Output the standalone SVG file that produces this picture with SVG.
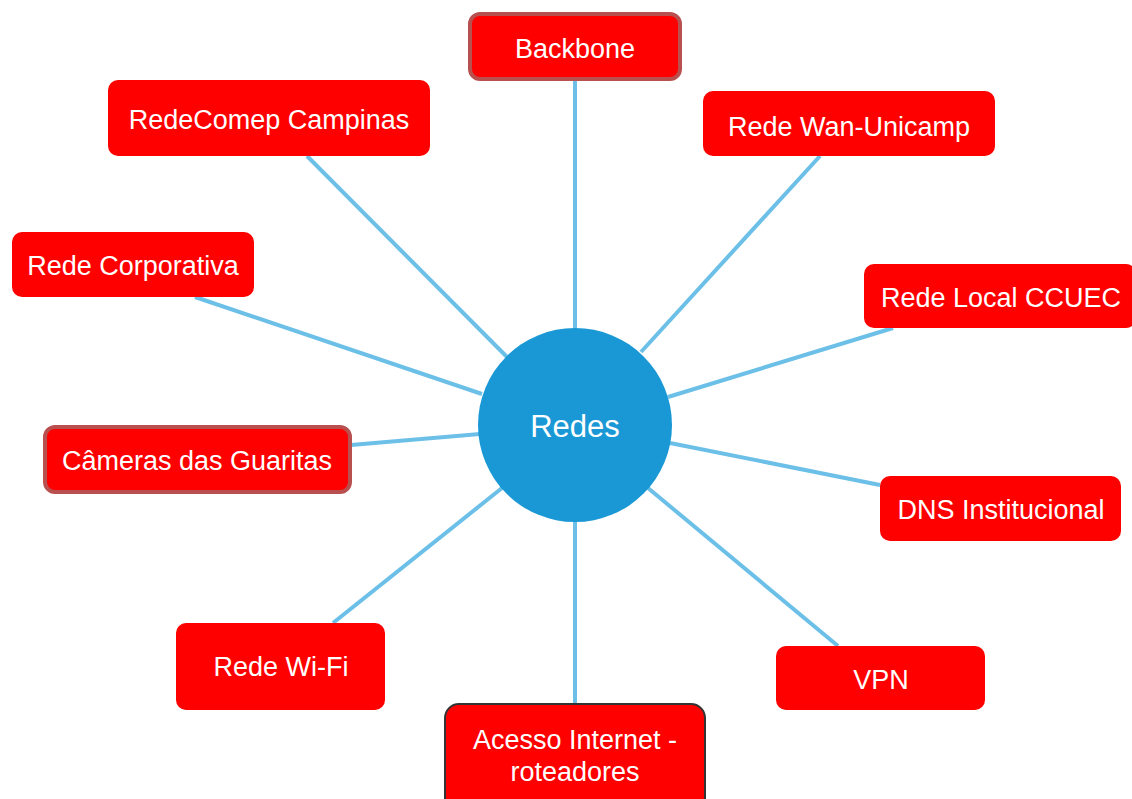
<svg xmlns="http://www.w3.org/2000/svg" width="1132" height="799" viewBox="0 0 1132 799">
<style>
.n{fill:#ff0000;}
.b1{stroke:#b85050;stroke-width:4;}
.b2{stroke:#333;stroke-width:2;}
.t{fill:#fff;font-family:"Liberation Sans",Arial,Helvetica,sans-serif;font-size:27px;text-anchor:middle;}
.c line{stroke:#6cc0e8;stroke-width:4;}
</style>
<rect width="1132" height="799" fill="#fff"/>
<g id="connectors" class="c">
<line x1="575" y1="80" x2="575" y2="330"/>
<line x1="307" y1="156" x2="507" y2="357"/>
<line x1="820" y1="156" x2="641" y2="352"/>
<line x1="195" y1="297" x2="482" y2="394"/>
<line x1="893" y1="328" x2="668" y2="397"/>
<line x1="351" y1="445" x2="480" y2="434"/>
<line x1="880" y1="485" x2="670" y2="443"/>
<line x1="333" y1="623" x2="502" y2="488"/>
<line x1="838" y1="646" x2="648" y2="488"/>
<line x1="575" y1="703" x2="575" y2="520"/>
</g>
<g id="redes"><circle cx="575" cy="425" r="97" fill="#1a98d5"/><text class="t" x="575" y="437" style="font-size:31px">Redes</text></g>
<g id="backbone"><rect class="n b1" x="470" y="14" width="210" height="65" rx="10"/><text class="t" x="575" y="58">Backbone</text></g>
<g id="redecomep"><rect class="n" x="108" y="80" width="322" height="76" rx="10"/><text class="t" x="269" y="129">RedeComep Campinas</text></g>
<g id="wan"><rect class="n" x="703" y="91" width="292" height="65" rx="10"/><text class="t" x="849" y="136">Rede Wan-Unicamp</text></g>
<g id="corporativa"><rect class="n" x="12" y="232" width="242" height="65" rx="10"/><text class="t" x="133" y="275">Rede Corporativa</text></g>
<g id="ccuec"><rect class="n" x="864" y="264" width="272" height="64" rx="10"/><text class="t" x="1001" y="307">Rede Local CCUEC</text></g>
<g id="cameras"><rect class="n b1" x="45" y="427" width="305" height="65" rx="10"/><text class="t" x="197" y="470">Câmeras das Guaritas</text></g>
<g id="dns"><rect class="n" x="880" y="476" width="241" height="65" rx="10"/><text class="t" x="1001" y="519">DNS Institucional</text></g>
<g id="wifi"><rect class="n" x="176" y="623" width="209" height="87" rx="10"/><text class="t" x="281" y="676">Rede Wi-Fi</text></g>
<g id="vpn"><rect class="n" x="776" y="646" width="209" height="64" rx="10"/><text class="t" x="881" y="689">VPN</text></g>
<g id="acesso"><rect class="n b2" x="445" y="704" width="260" height="110" rx="14"/><text class="t" x="575" y="749">Acesso Internet -</text><text class="t" x="575" y="781">roteadores</text></g>
</svg>
